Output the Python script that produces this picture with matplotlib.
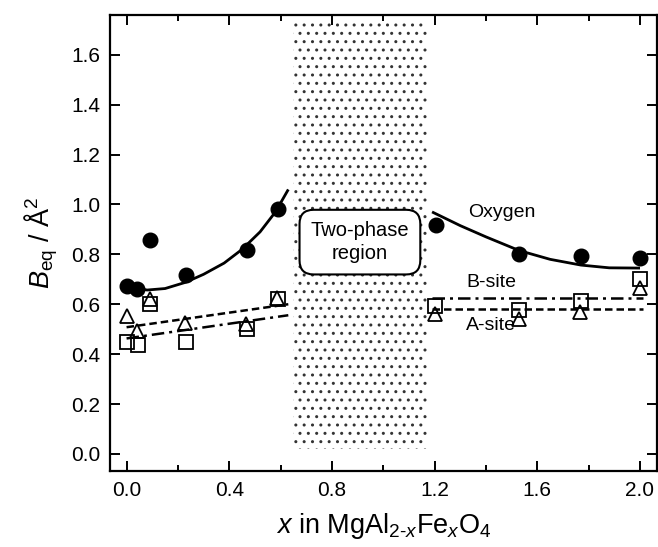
import matplotlib
matplotlib.use("Agg")
import matplotlib.pyplot as plt
from matplotlib.patches import Rectangle
from matplotlib.ticker import MultipleLocator

plt.rcParams['font.family'] = ['Liberation Sans', 'DejaVu Sans']
plt.rcParams['mathtext.fontset'] = 'custom'
plt.rcParams['mathtext.rm'] = 'Liberation Sans'
plt.rcParams['mathtext.it'] = 'Liberation Sans:italic'
plt.rcParams['hatch.linewidth'] = 1.0

# --- data ---
ox_x_left = [0.0, 0.04, 0.09, 0.23, 0.47, 0.59]
ox_y_left = [0.673, 0.66, 0.856, 0.716, 0.816, 0.98]
ox_x_right = [1.205, 1.53, 1.77, 2.0]
ox_y_right = [0.916, 0.80, 0.793, 0.784]

a_x_left = [0.0, 0.04, 0.09, 0.227, 0.467, 0.585]
a_y_left = [0.553, 0.493, 0.623, 0.523, 0.52, 0.624]
a_x_right = [1.2, 1.527, 1.768, 2.0]
a_y_right = [0.56, 0.54, 0.567, 0.667]

b_x_left = [0.0, 0.044, 0.09, 0.23, 0.47, 0.59]
b_y_left = [0.449, 0.437, 0.60, 0.449, 0.50, 0.62]
b_x_right = [1.2, 1.529, 1.77, 2.0]
b_y_right = [0.593, 0.576, 0.613, 0.70]

# fitted guide curves
ox_fit_x_left = [0.03, 0.08, 0.15, 0.23, 0.30, 0.38, 0.45, 0.52, 0.58, 0.63]
ox_fit_y_left = [0.667, 0.657, 0.663, 0.688, 0.72, 0.765, 0.82, 0.89, 0.97, 1.06]
ox_fit_x_right = [1.19, 1.30, 1.40, 1.53, 1.65, 1.77, 1.88, 2.0]
ox_fit_y_right = [0.97, 0.915, 0.87, 0.815, 0.78, 0.757, 0.746, 0.745]

a_fit_x_left = [0.0, 0.63]
a_fit_y_left = [0.508, 0.60]
a_fit_x_right = [1.19, 2.01]
a_fit_y_right = [0.583, 0.583]

b_fit_x_left = [0.0, 0.63]
b_fit_y_left = [0.463, 0.556]
b_fit_x_right = [1.19, 2.01]
b_fit_y_right = [0.624, 0.624]

two_phase = (0.648, 1.170)   # x-range of the two-phase region
two_phase_y = (0.02, 1.73)

fig = plt.figure(figsize=(6.58, 5.47), dpi=100)
ax = fig.add_axes([0.167, 0.139, 0.831, 0.834])

# two-phase stippled region
ax.add_patch(Rectangle((two_phase[0], two_phase_y[0]),
                       two_phase[1] - two_phase[0],
                       two_phase_y[1] - two_phase_y[0],
                       facecolor='white', edgecolor='#333333', linewidth=0,
                       hatch='..', zorder=0))

lw = 1.8
# guide lines
for xs, ys in [(ox_fit_x_left, ox_fit_y_left), (ox_fit_x_right, ox_fit_y_right)]:
    ax.plot(xs, ys, color='black', lw=2.0, solid_capstyle='butt')
for xs, ys in [(a_fit_x_left, a_fit_y_left), (a_fit_x_right, a_fit_y_right)]:
    ax.plot(xs, ys, color='black', lw=lw, dashes=(3, 1.6))
for xs, ys in [(b_fit_x_left, b_fit_y_left), (b_fit_x_right, b_fit_y_right)]:
    ax.plot(xs, ys, color='black', lw=lw, dashes=(5, 2, 1.2, 2))

# markers
ax.plot(ox_x_left + ox_x_right, ox_y_left + ox_y_right, 'o', color='black',
        markersize=10.5, linestyle='none')
ax.plot(b_x_left + b_x_right, b_y_left + b_y_right, 's', mfc='none',
        mec='black', mew=1.3, markersize=9.5, linestyle='none')
ax.plot(a_x_left + a_x_right, a_y_left + a_y_right, '^', mfc='none',
        mec='black', mew=1.3, markersize=10, linestyle='none')

# labels
ax.text(1.463, 0.967, 'Oxygen', fontsize=14, ha='center', va='center')
ax.text(1.42, 0.687, 'B-site', fontsize=14, ha='center', va='center')
ax.text(1.42, 0.513, 'A-site', fontsize=14, ha='center', va='center')
ax.text(0.909, 0.849, 'Two-phase\nregion', fontsize=14.5, ha='center',
        va='center', linespacing=1.3,
        bbox=dict(boxstyle='round,pad=0.55,rounding_size=0.7',
                  facecolor='white', edgecolor='black', linewidth=1.5))

ax.set_xlim(-0.065, 2.065)
ax.set_ylim(-0.068, 1.76)
ax.xaxis.set_minor_locator(MultipleLocator(0.2))
ax.set_xticks([0.0, 0.4, 0.8, 1.2, 1.6, 2.0])
ax.set_xticklabels(['0.0', '0.4', '0.8', '1.2', '1.6', '2.0'])
ax.set_yticks([0.0, 0.2, 0.4, 0.6, 0.8, 1.0, 1.2, 1.4, 1.6])
ax.set_yticklabels(['0.0', '0.2', '0.4', '0.6', '0.8', '1.0', '1.2', '1.4', '1.6'])
ax.tick_params(which='both', direction='in', top=True, right=True,
               labelsize=15, width=1.4)
ax.tick_params(which='major', length=7, pad=7)
ax.tick_params(which='minor', length=4)
for s in ax.spines.values():
    s.set_linewidth(1.6)

ax.set_xlabel(r'$x$ in MgAl$_{2\text{-}x}$Fe$_{x}$O$_{4}$', fontsize=19.5, labelpad=8)
ax.set_ylabel(r'$B_{\mathrm{eq}}$ / Å$^{2}$', fontsize=19.5, labelpad=8)

fig.savefig('out.png', dpi=100)
plt.close(fig)
